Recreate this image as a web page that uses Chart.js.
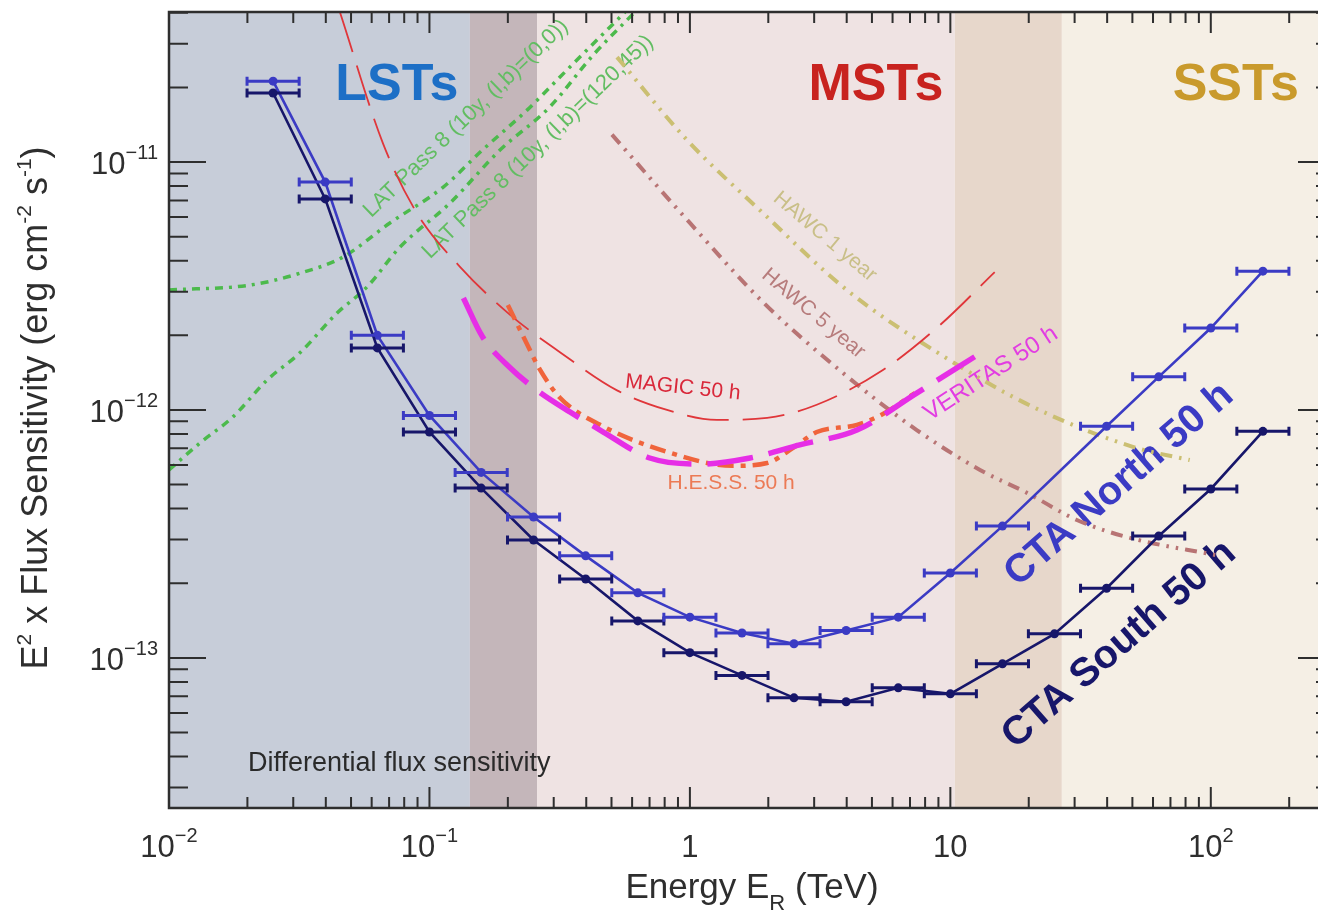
<!DOCTYPE html>
<html>
<head>
<meta charset="utf-8">
<script src="https://cdn.jsdelivr.net/npm/chart.js@4.4.0/dist/chart.umd.min.js"></script>
<style>
  html, body { margin: 0; padding: 0; background: #fff; overflow: hidden; }
  #wrap { position: relative; width: 1318px; height: 914px; }
  canvas { display: block; }
</style>
</head>
<body>
<div id="wrap"><canvas id="chart"></canvas></div>
<script>
// ============================================================
// CTA differential flux sensitivity (E^2 x flux vs energy)
// ============================================================

// ── Datos ──────────────────────────────────────────────────────
const NORTH_E = [0.0251, 0.0398, 0.0631, 0.1, 0.158, 0.251, 0.398, 0.631, 1.0, 1.585, 2.51, 3.98, 6.31, 10.0, 15.85, 39.8, 63.1, 100, 158.5];
const NORTH_S = [2.12e-11, 8.3e-12, 2.0e-12, 9.5e-13, 5.6e-13, 3.7e-13, 2.58e-13, 1.83e-13, 1.46e-13, 1.26e-13, 1.14e-13, 1.29e-13, 1.46e-13, 2.2e-13, 3.4e-13, 8.6e-13, 1.36e-12, 2.14e-12, 3.63e-12];

const SOUTH_E = [0.0251, 0.0398, 0.0631, 0.1, 0.158, 0.251, 0.398, 0.631, 1.0, 1.585, 2.51, 3.98, 6.31, 10.0, 15.85, 25.1, 39.8, 63.1, 100, 158.5];
const SOUTH_S = [1.90e-11, 7.1e-12, 1.78e-12, 8.15e-13, 4.84e-13, 2.99e-13, 2.08e-13, 1.41e-13, 1.05e-13, 8.5e-14, 6.9e-14, 6.65e-14, 7.57e-14, 7.16e-14, 9.46e-14, 1.25e-13, 1.91e-13, 3.1e-13, 4.8e-13, 8.2e-13];

const MAGIC_E = [0.0453, 0.0663, 0.0895, 0.131, 0.204, 0.317, 0.525, 0.817, 1.27, 1.98, 3.07, 5.51, 9.12, 14.8];
const MAGIC_S = [4.03e-11, 1.19e-11, 6.22e-12, 3.78e-12, 2.42e-12, 1.71e-12, 1.20e-12, 1.0e-12, 9.12e-13, 9.29e-13, 1.05e-12, 1.45e-12, 2.20e-12, 3.60e-12];

const HESS_E = [0.2, 0.233, 0.266, 0.317, 0.452, 0.817, 1.46, 1.98, 2.49, 3.07, 4.38, 5.51, 7.31];
const HESS_S = [2.65e-12, 1.91e-12, 1.45e-12, 1.12e-12, 8.71e-13, 6.78e-13, 5.95e-13, 6.11e-13, 7.03e-13, 8.15e-13, 8.71e-13, 9.64e-13, 1.17e-12];

const VERITAS_E = [0.135, 0.160, 0.204, 0.259, 0.346, 0.452, 0.701, 1.09, 1.70, 2.64, 4.38, 7.43, 12.4];
const VERITAS_S = [2.83e-12, 1.97e-12, 1.48e-12, 1.20e-12, 9.82e-13, 8.30e-13, 6.40e-13, 6.05e-13, 6.40e-13, 7.23e-13, 8.30e-13, 1.17e-12, 1.64e-12];

const HAWC1_E = [0.525, 0.973, 1.91, 4.0, 8.88, 20.7, 50.2, 83.0];
const HAWC1_S = [2.65e-11, 1.23e-11, 6.22e-12, 3.05e-12, 1.71e-12, 1.03e-12, 7.10e-13, 6.28e-13];

const HAWC5_E = [0.502, 1.0, 1.91, 3.87, 7.43, 13.0, 19.7, 30.6, 48.9, 104];
const HAWC5_S = [1.29e-11, 5.68e-12, 2.72e-12, 1.41e-12, 8.30e-13, 5.73e-13, 4.63e-13, 3.60e-13, 3.05e-13, 2.60e-13];

const LAT00_E = [0.01, 0.0205, 0.0318, 0.0466, 0.0705, 0.113, 0.160, 0.237, 0.337, 0.564];
const LAT00_S = [3.05e-12, 3.19e-12, 3.56e-12, 4.14e-12, 5.68e-12, 7.93e-12, 1.12e-11, 1.62e-11, 2.35e-11, 4.03e-11];

const LAT120_E = [0.01, 0.01315, 0.0176, 0.0238, 0.0318, 0.0442, 0.0575, 0.0771, 0.120, 0.187, 0.290, 0.425, 0.615];
const LAT120_S = [5.73e-13, 7.36e-13, 9.38e-13, 1.32e-12, 1.70e-12, 2.46e-12, 3.13e-12, 4.54e-12, 6.84e-12, 1.12e-11, 1.67e-11, 2.70e-11, 4.03e-11];

// regiones LST / MST / SST (bordes en TeV)
const BAND_EDGES  = [0.01, 0.143, 0.259, 10.4, 26.8, 258];
const BAND_COLORS = ['#c7cdd9', '#c4b6ba', '#efe3e3', '#e7d7cb', '#f5efe5'];

// ejes
const X_MIN = 0.01, X_MAX = 258;
const Y_MIN = 2.48e-14, Y_MAX = 4.03e-11;
const X_TICKS = [0.01, 0.1, 1, 10, 100];
const X_TICK_LABELS = [['10', '\u22122'], ['10', '\u22121'], ['1', ''], ['10', ''], ['10', '2']];
const Y_TICKS = [1e-11, 1e-12, 1e-13];
const Y_TICK_LABELS = [['10', '\u221211'], ['10', '\u221212'], ['10', '\u221213']];

const BIN_HALF_DEX = 0.1;   // semiancho de bin (error horizontal)

// ── Estilos ───────────────────────────────────────────────────
const FONT = '"Liberation Sans", Arial, Helvetica, sans-serif';
const AXIS_COLOR = '#2e2e2e';

// anotaciones (posición en coordenadas de datos)
const ANNOTATIONS = [
    { t: 'LSTs', x: 0.075, y: 2.04e-11, c: '#1d6fc6', s: 52, w: 'bold', a: 0 },
    { t: 'MSTs', x: 5.18,  y: 2.04e-11, c: '#c8231f', s: 52, w: 'bold', a: 0 },
    { t: 'SSTs', x: 124.7, y: 2.04e-11, c: '#c99a2c', s: 52, w: 'bold', a: 0 },
    { t: 'Differential flux sensitivity', x: 0.0201, y: 3.74e-14, c: '#2a2a2a', s: 27, a: 0, align: 'left' },
    { t: 'LAT Pass 8 (10y, (l,b)=(0,0))',    x: 0.138, y: 1.50e-11, c: '#62bd62', s: 22, a: -44 },
    { t: 'LAT Pass 8 (10y, (l,b)=(120,45))', x: 0.261, y: 1.15e-11, c: '#62bd62', s: 22, a: -44 },
    { t: 'HAWC 1 year', x: 3.30, y: 4.99e-12, c: '#c9bf88', s: 21, a: 40 },
    { t: 'HAWC 5 year', x: 2.98, y: 2.45e-12, c: '#b77c7c', s: 21, a: 40 },
    { t: 'MAGIC 50 h',  x: 0.94, y: 1.23e-12, c: '#d9283a', s: 21, a: 6 },
    { t: 'H.E.S.S. 50 h', x: 1.44, y: 5.08e-13, c: '#ec7a55', s: 21, a: 0 },
    { t: 'VERITAS 50 h', x: 14.3, y: 1.40e-12, c: '#e23de2', s: 24, a: -33 },
    { t: 'CTA North 50 h', x: 44.5, y: 5.0e-13, c: '#3b3bc4', s: 40, w: 'bold', a: -41 },
    { t: 'CTA South 50 h', x: 44.5, y: 1.13e-13, c: '#17166a', s: 40, w: 'bold', a: -41 },
];

// ── Utilidades ────────────────────────────────────────────────
function drawRich(ctx, runs, x, y, angle, align) {
    ctx.save();
    ctx.translate(x, y);
    ctx.rotate(angle * Math.PI / 180);
    ctx.textBaseline = 'alphabetic';
    ctx.textAlign = 'left';
    let w = 0;
    runs.forEach(r => {
        ctx.font = `${r.w || 'normal'} ${r.s}px ${FONT}`;
        r._w = ctx.measureText(r.t).width;
        w += r._w;
    });
    let cx = align === 'right' ? -w : align === 'left' ? 0 : -w / 2;
    runs.forEach(r => {
        ctx.font = `${r.w || 'normal'} ${r.s}px ${FONT}`;
        ctx.fillStyle = r.c || AXIS_COLOR;
        ctx.fillText(r.t, cx, r.dy || 0);
        cx += r._w;
    });
    ctx.restore();
}

function curve(label, xs, ys, color, width, dash) {
    return {
        label,
        data: xs.map((x, i) => ({ x, y: ys[i] })),
        showLine: true,
        borderColor: color,
        borderWidth: width,
        borderDash: dash,
        pointRadius: 0,
        cubicInterpolationMode: 'monotone',
        fill: false,
    };
}

function cta(label, xs, ys, color) {
    return {
        label,
        data: xs.map((x, i) => ({ x, y: ys[i] })),
        showLine: true,
        borderColor: color,
        backgroundColor: color,
        borderWidth: 2.6,
        pointRadius: 4.5,
        pointBorderWidth: 0,
        tension: 0,
        errBar: true,
    };
}

// ── Plugins ───────────────────────────────────────────────────
const backdropPlugin = {
    id: 'backdrop',
    beforeDatasetsDraw(chart) {
        const { ctx, chartArea: ca, scales: { x, y } } = chart;
        ctx.save();
        for (let i = 0; i < BAND_COLORS.length; i++) {
            const x0 = x.getPixelForValue(BAND_EDGES[i]);
            const x1 = x.getPixelForValue(BAND_EDGES[i + 1]);
            ctx.fillStyle = BAND_COLORS[i];
            ctx.fillRect(x0, ca.top, x1 - x0, ca.bottom - ca.top);
        }
        ctx.beginPath();
        ctx.rect(ca.left, ca.top, ca.right - ca.left, ca.bottom - ca.top);
        ctx.clip();
        ANNOTATIONS.forEach(a => {
            ctx.save();
            ctx.translate(x.getPixelForValue(a.x), y.getPixelForValue(a.y));
            ctx.rotate(a.a * Math.PI / 180);
            ctx.font = `${a.w || 'normal'} ${a.s}px ${FONT}`;
            ctx.fillStyle = a.c;
            ctx.textAlign = a.align || 'center';
            ctx.textBaseline = 'middle';
            ctx.fillText(a.t, 0, 0);
            ctx.restore();
        });
        ctx.restore();
    },
};

const errorBarPlugin = {
    id: 'errbars',
    afterDatasetsDraw(chart) {
        const { ctx, scales: { x, y } } = chart;
        const f = Math.pow(10, BIN_HALF_DEX);
        chart.data.datasets.forEach(ds => {
            if (!ds.errBar) return;
            ctx.save();
            ctx.strokeStyle = ds.borderColor;
            ctx.lineWidth = 3;
            ds.data.forEach(p => {
                const xl = x.getPixelForValue(p.x / f);
                const xr = x.getPixelForValue(p.x * f);
                const py = y.getPixelForValue(p.y);
                ctx.beginPath();
                ctx.moveTo(xl, py); ctx.lineTo(xr, py);
                ctx.moveTo(xl, py - 4.5); ctx.lineTo(xl, py + 4.5);
                ctx.moveTo(xr, py - 4.5); ctx.lineTo(xr, py + 4.5);
                ctx.stroke();
            });
            ctx.restore();
        });
    },
};

const framePlugin = {
    id: 'frame',
    afterDraw(chart) {
        const { ctx, chartArea: ca, scales: { x, y } } = chart;
        const rightSpine = ca.right + 17;   // el eje derecho queda fuera de la imagen
        ctx.save();
        ctx.strokeStyle = AXIS_COLOR;
        ctx.lineWidth = 2;
        ctx.beginPath();
        // ticks eje x (abajo y arriba)
        for (let e = -2; e <= 2; e++) {
            for (let m = 1; m <= 9; m++) {
                const v = m * Math.pow(10, e);
                if (v < X_MIN || v > X_MAX) continue;
                const px = x.getPixelForValue(v);
                const len = m === 1 ? 21 : 11;
                ctx.moveTo(px, ca.bottom); ctx.lineTo(px, ca.bottom - len);
                ctx.moveTo(px, ca.top);    ctx.lineTo(px, ca.top + len);
            }
        }
        // ticks eje y (izquierda y derecha)
        for (let e = -14; e <= -11; e++) {
            for (let m = 1; m <= 9; m++) {
                const v = m * Math.pow(10, e);
                if (v < Y_MIN || v > Y_MAX) continue;
                const py = y.getPixelForValue(v);
                const len = m === 1 ? 37 : 19;
                ctx.moveTo(ca.left, py);    ctx.lineTo(ca.left + len, py);
                ctx.moveTo(rightSpine, py); ctx.lineTo(rightSpine - len, py);
            }
        }
        ctx.stroke();
        // marco
        ctx.lineWidth = 2.5;
        ctx.beginPath();
        ctx.moveTo(ca.right + 5, ca.top); ctx.lineTo(ca.left, ca.top);
        ctx.lineTo(ca.left, ca.bottom); ctx.lineTo(ca.right + 5, ca.bottom);
        ctx.stroke();
        ctx.restore();

        // etiquetas de ticks
        X_TICKS.forEach((v, i) => {
            const [b, e] = X_TICK_LABELS[i];
            drawRich(ctx, [{ t: b, s: 31 }, { t: e, s: 20, dy: -15 }],
                x.getPixelForValue(v), ca.bottom + 49, 0, 'center');
        });
        Y_TICKS.forEach((v, i) => {
            const [b, e] = Y_TICK_LABELS[i];
            drawRich(ctx, [{ t: b, s: 31 }, { t: e, s: 20, dy: -15 }],
                ca.left - 11, y.getPixelForValue(v) + 12, 0, 'right');
        });

        // títulos de ejes
        drawRich(ctx, [
            { t: 'Energy E', s: 35 }, { t: 'R', s: 22, dy: 12 }, { t: ' (TeV)', s: 35 },
        ], 752, ca.bottom + 90, 0, 'center');
        drawRich(ctx, [
            { t: 'E', s: 36 }, { t: '2', s: 21, dy: -16 },
            { t: ' x Flux Sensitivity (erg cm', s: 36 }, { t: '-2', s: 21, dy: -16 },
            { t: ' s', s: 36 }, { t: '-1', s: 21, dy: -16 }, { t: ')', s: 36 },
        ], 47, 408, -90, 'center');
    },
};

// ── Gráfico ───────────────────────────────────────────────────
new Chart(document.getElementById('chart'), {
    type: 'scatter',
    data: {
        datasets: [
            cta('CTA South 50 h', SOUTH_E, SOUTH_S, '#17166a'),
            cta('CTA North 50 h', NORTH_E, NORTH_S, '#3b3bc4'),
            curve('VERITAS 50 h', VERITAS_E, VERITAS_S, '#e62ee6', 5.5, [46, 16]),
            curve('H.E.S.S. 50 h', HESS_E, HESS_S, '#f0643c', 4.5, [16, 7, 5, 7]),
            curve('MAGIC 50 h', MAGIC_E, MAGIC_S, '#e0363a', 1.8, [42, 14]),
            curve('HAWC 5 year', HAWC5_E, HAWC5_S, '#b87474', 4, [12, 7, 2.5, 7, 2.5, 7]),
            curve('HAWC 1 year', HAWC1_E, HAWC1_S, '#cbbf72', 4, [12, 7, 2.5, 7, 2.5, 7]),
            curve('LAT (120,45)', LAT120_E, LAT120_S, '#4cba4c', 3.5, [8, 6, 3, 6]),
            curve('LAT (0,0)', LAT00_E, LAT00_S, '#4cba4c', 3.5, [8, 6, 3, 6]),
        ],
    },
    options: {
        responsive: true, maintainAspectRatio: false,
        animation: false,
        layout: { autoPadding: false, padding: { top: 12, right: 0, left: 0, bottom: 0 } },
        plugins: { legend: { display: false }, tooltip: { enabled: false } },
        scales: {
            x: {
                type: 'logarithmic', min: X_MIN, max: X_MAX,
                ticks: { display: false }, grid: { display: false }, border: { display: false },
                afterFit: s => { s.height = 106; s.paddingLeft = 0; s.paddingRight = 0; },
            },
            y: {
                type: 'logarithmic', min: Y_MIN, max: Y_MAX,
                ticks: { display: false }, grid: { display: false }, border: { display: false },
                afterFit: s => { s.width = 169; },
            },
        },
    },
    plugins: [backdropPlugin, errorBarPlugin, framePlugin],
});
</script>
</body>
</html>
